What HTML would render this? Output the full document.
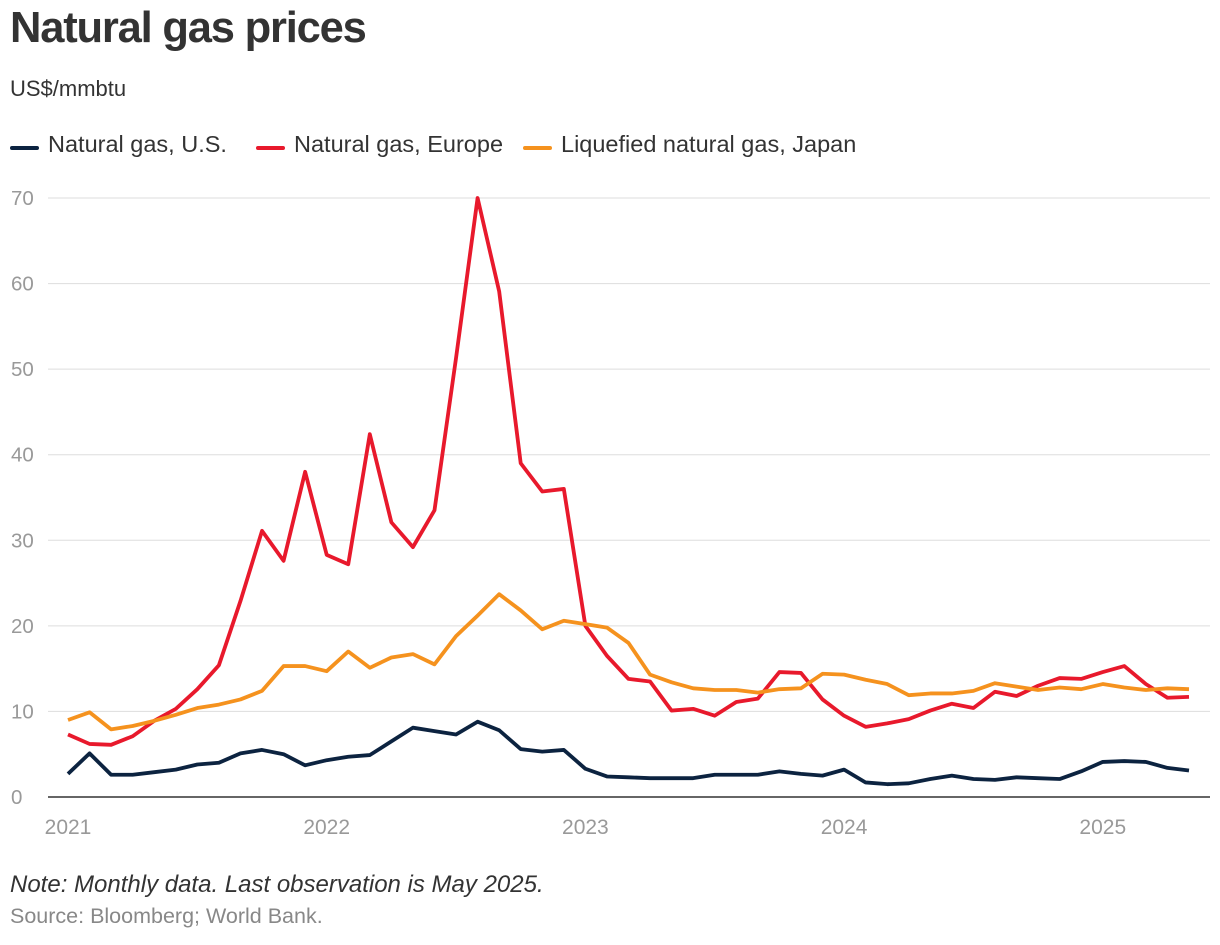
<!DOCTYPE html>
<html><head><meta charset="utf-8"><style>
body{margin:0;background:#fff;font-family:"Liberation Sans",sans-serif;}
</style></head><body>
<svg width="1220" height="940" xmlns="http://www.w3.org/2000/svg" font-family="Liberation Sans, sans-serif">
<text x="10" y="42" font-size="43.5" font-weight="bold" fill="#333" letter-spacing="-1.2">Natural gas prices</text>
<text x="10" y="96" font-size="22" fill="#333">US$/mmbtu</text>
<g id="legend"></g>
<g id="grid"></g>
<g id="series"></g>
<text x="10" y="892" font-size="24" font-style="italic" fill="#333">Note: Monthly data. Last observation is May 2025.</text>
<text x="10" y="923" font-size="21.5" fill="#888">Source: Bloomberg; World Bank.</text>
</svg>
<script>
const yTicks=[0,10,20,30,40,50,60,70];
const xTickLabels=["2021","2022","2023","2024","2025"];
const us=[2.7,5.1,2.6,2.6,2.9,3.2,3.8,4.0,5.1,5.5,5.0,3.7,4.3,4.7,4.9,6.5,8.1,7.7,7.3,8.8,7.8,5.6,5.3,5.5,3.3,2.4,2.3,2.2,2.2,2.2,2.6,2.6,2.6,3.0,2.7,2.5,3.2,1.7,1.5,1.6,2.1,2.5,2.1,2.0,2.3,2.2,2.1,3.0,4.1,4.2,4.1,3.4,3.1];
const europe=[7.3,6.2,6.1,7.1,8.9,10.3,12.6,15.4,22.9,31.1,27.6,38.0,28.3,27.2,42.4,32.1,29.2,33.5,51.3,70.0,59.1,39.0,35.7,36.0,20.0,16.5,13.8,13.5,10.1,10.3,9.5,11.1,11.5,14.6,14.5,11.4,9.5,8.2,8.6,9.1,10.1,10.9,10.4,12.3,11.8,13.0,13.9,13.8,14.6,15.3,13.2,11.6,11.7];
const japan=[9.0,9.9,7.9,8.3,8.9,9.6,10.4,10.8,11.4,12.4,15.3,15.3,14.7,17.0,15.1,16.3,16.7,15.5,18.8,21.2,23.7,21.8,19.6,20.6,20.2,19.8,18.0,14.3,13.4,12.7,12.5,12.5,12.2,12.6,12.7,14.4,14.3,13.7,13.2,11.9,12.1,12.1,12.4,13.3,12.9,12.5,12.8,12.6,13.2,12.8,12.5,12.7,12.6];
const NS="http://www.w3.org/2000/svg";
const x=i=>68+i*(1189-68)/52;
const y=v=>797-v*(797-198)/70;
function mk(t,a,p){const e=document.createElementNS(NS,t);for(const k in a)e.setAttribute(k,a[k]);p.appendChild(e);return e;}
const grid=document.getElementById('grid');
yTicks.forEach(v=>{
 if(v>0){const l=mk('line',{x1:48,x2:1210,y1:y(v),y2:y(v),stroke:'#ddd','stroke-width':1},grid);
 
 }
 const t=mk('text',{x:11,y:y(v)+7,'font-size':20.5,fill:'#999'},grid);t.textContent=v;
 
 
});
const base=mk('line',{x1:48,x2:1210,y1:797,y2:797,stroke:'#333','stroke-width':1.5},grid);


xTickLabels.forEach((s,k)=>{
 const xx=x(k*12);
 const t=mk('text',{x:xx,y:834,'font-size':21,fill:'#999','text-anchor':'middle'},grid);t.textContent=s;
 
 
});
const series=[["us",us,"#0c2340","Natural gas, U.S.",12],["europe",europe,"#e8192c","Natural gas, Europe",258],["japan",japan,"#f5921e","Liquefied natural gas, Japan",525]];
const sg=document.getElementById('series'),lg=document.getElementById('legend');
series.forEach(([n,d,c,lab,lx])=>{
 const p=mk('polyline',{points:d.map((v,i)=>x(i)+','+y(v)).join(' '),fill:'none',stroke:c,'stroke-width':3.8,'stroke-linejoin':'round'},sg);
 
 
 const g=mk('g',{},lg);
 
 
 mk('line',{x1:lx,x2:lx+25,y1:148,y2:148,stroke:c,'stroke-width':4,'stroke-linecap':'round'},g);
 const t=mk('text',{x:lx+36,y:152,'font-size':23.5,fill:'#333'},g);t.textContent=lab;
});
</script>
</body></html>
